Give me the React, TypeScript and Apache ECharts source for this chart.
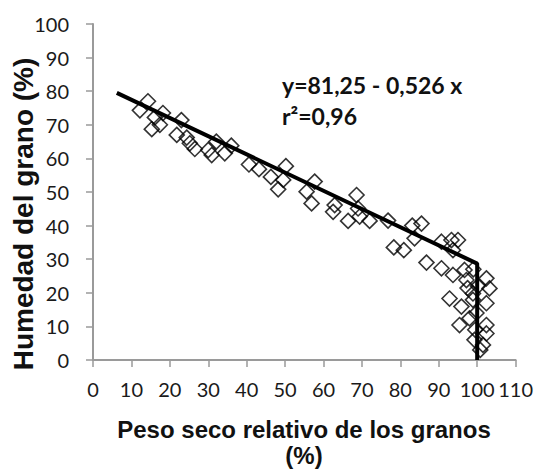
import React, { useEffect, useRef } from "react";
import * as echarts from "echarts";

const pointX = [
  12.2, 14.3, 15.3, 16.1, 17.4, 18.2, 21.8, 23.0, 24.4, 25.2, 26.5, 30.0, 30.9, 32.1, 34.3, 36.0,
  40.6, 43.2, 46.3, 48.2, 49.5, 50.2, 55.6, 56.9, 57.7, 62.5, 62.9, 66.4, 68.6, 69.0, 69.4, 72.0,
  76.8, 78.3, 80.9, 83.1, 83.7, 85.5, 86.8, 90.7, 93.3, 95.0, 93.7, 90.7, 93.7, 96.7, 97.2, 102.4,
  103.2, 92.8, 95.9, 98.9, 102.4, 95.4, 98.0, 102.4, 99.3, 102.4, 101.5, 98.9, 97.5, 99.0, 100.2, 99.8,
  99.5, 100.8,
];
const pointY = [
  74.3, 77.0, 68.7, 72.2, 70.0, 73.5, 67.0, 71.4, 66.2, 64.5, 62.8, 62.5, 61.0, 65.0, 61.5, 63.8,
  58.2, 56.8, 54.5, 50.8, 53.6, 57.7, 50.1, 46.6, 53.1, 44.1, 46.1, 41.4, 49.1, 45.1, 42.7, 41.4,
  41.5, 33.5, 32.7, 40.0, 36.2, 40.6, 29.0, 35.2, 35.7, 35.7, 32.7, 27.3, 25.3, 26.8, 23.8, 24.3,
  21.3, 18.3, 15.9, 17.9, 16.9, 10.4, 12.4, 10.4, 6.0, 7.9, 4.5, 19.8, 21.4, 27.0, 22.0, 14.0,
  9.0, 3.0,
];
const lineX = [6.2, 100, 100];
const lineY = [79.5, 28.7, 0];
const equationText = "y=81,25 - 0,526 x";
const r2Text = "r\u00b2=0,96";
const xTitle1 = "Peso seco relativo de los granos";
const xTitle2 = "(%)";
const yTitle = "Humedad del grano (%)";

export default function App() {
  const ref = useRef<HTMLDivElement>(null);
  useEffect(() => {
    if (!ref.current) return;
    const chart = echarts.init(ref.current, undefined, { renderer: "svg" });
    const axisGray = "#9a9a9a";
    const labelFont = { fontFamily: "Lato", fontSize: 20, color: "#1a1a1a" };
    chart.setOption({
      animation: false,
      backgroundColor: "#ffffff",
      grid: { left: 93, top: 24, right: 20, bottom: 109, containLabel: false },
      xAxis: {
        type: "value",
        min: 0,
        max: 110,
        interval: 10,
        axisLine: { show: true, lineStyle: { color: axisGray, width: 2 } },
        axisTick: { show: true, length: 7, lineStyle: { color: axisGray, width: 1.5 } },
        axisLabel: { ...labelFont, margin: 19 },
        splitLine: { show: false },
      },
      yAxis: {
        type: "value",
        min: 0,
        max: 100,
        interval: 10,
        axisLine: { show: true, lineStyle: { color: axisGray, width: 2 } },
        axisTick: { show: true, length: 7, lineStyle: { color: axisGray, width: 1.5 } },
        axisLabel: { ...labelFont, margin: 24 },
        splitLine: { show: false },
      },
      series: [
        {
          type: "scatter",
          data: pointX.map((x, i) => [x, pointY[i]]),
          symbol: "diamond",
          symbolSize: [15, 15],
          itemStyle: { color: "rgba(255,255,255,0)", borderColor: "#000", borderWidth: 1.6 },
          z: 2,
        },
        {
          type: "line",
          data: lineX.map((x, i) => [x, lineY[i]]),
          symbol: "none",
          lineStyle: { color: "#000", width: 4 },
          z: 3,
        },
      ],
      graphic: [
        {
          type: "text",
          left: 282,
          top: 73,
          style: { text: equationText, fontFamily: "Lato", fontWeight: "bold", fontSize: 23, fill: "#111" },
        },
        {
          type: "text",
          left: 282,
          top: 104,
          style: { text: r2Text, fontFamily: "Lato", fontWeight: "bold", fontSize: 23, fill: "#111" },
        },
        {
          type: "text",
          x: 304,
          y: 429,
          style: {
            text: xTitle1, fontFamily: "Liberation Sans", fontWeight: "bold", fontSize: 24, fill: "#111",
            textAlign: "center", textVerticalAlign: "middle",
          },
        },
        {
          type: "text",
          x: 304,
          y: 455,
          style: {
            text: xTitle2, fontFamily: "Liberation Sans", fontWeight: "bold", fontSize: 24, fill: "#111",
            textAlign: "center", textVerticalAlign: "middle",
          },
        },
        {
          type: "text",
          x: 23,
          y: 214,
          rotation: Math.PI / 2,
          style: {
            text: yTitle, fontFamily: "Liberation Sans", fontWeight: "bold", fontSize: 28, fill: "#111",
            textAlign: "center", textVerticalAlign: "middle",
          },
        },
      ],
    });
    return () => chart.dispose();
  }, []);
  return (
    <div
      ref={ref}
      style={{ position: "fixed", left: 0, top: 0, width: 536, height: 469, background: "#fff" }}
    />
  );
}
